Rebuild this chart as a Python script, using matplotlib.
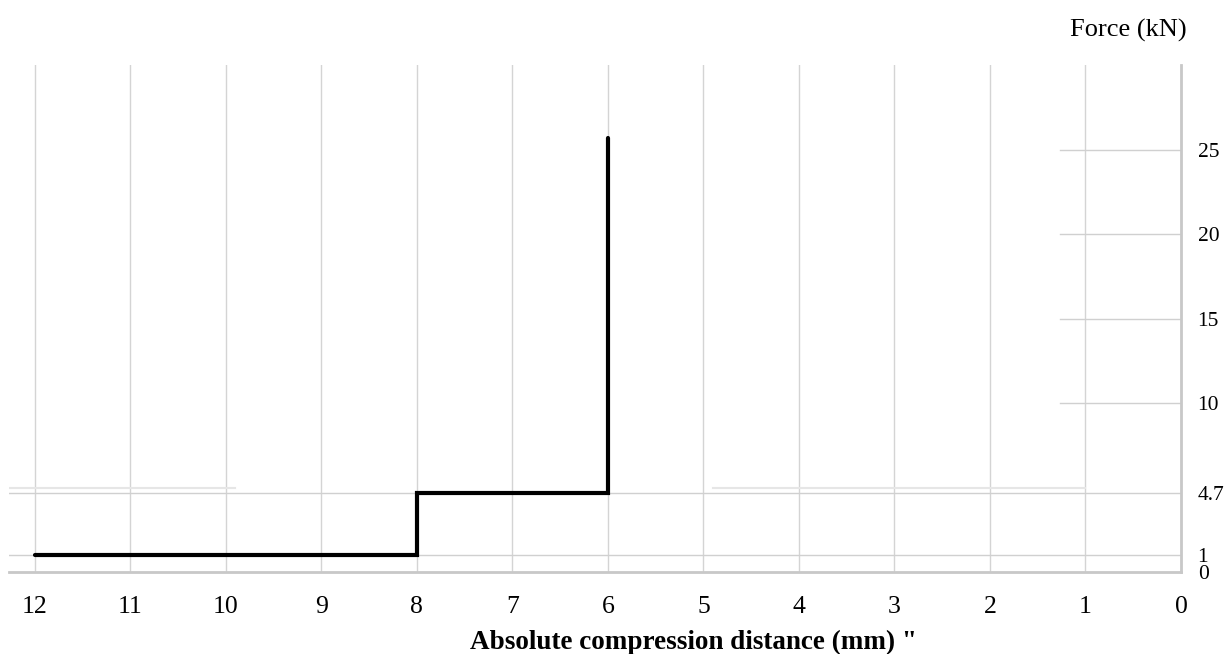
import numpy as np
import matplotlib.pyplot as plt

plt.rcParams['font.family'] = ['Liberation Serif', 'DejaVu Serif']

# step profile: force vs absolute compression distance
distance = [12.0, 8.0, 8.0, 6.0, 6.0]
force = [1.0, 1.0, 4.7, 4.7, 25.7]

xticks = [12, 11, 10, 9, 8, 7, 6, 5, 4, 3, 2, 1, 0]
yticks = [0, 1, 4.7, 10, 15, 20, 25]
ytick_labels = ['0', '1', '4.7', '10', '15', '20', '25']
short_levels = [10, 15, 20, 25]   # short reference marks near the axis
full_levels = [1, 4.7]            # reference lines across the plot

fig = plt.figure(figsize=(12.27, 6.54), dpi=100)
ax = fig.add_axes([0.0073, 0.125, 0.9552, 0.7756])

ax.set_xlim(12.27, 0)
ax.set_ylim(0, 30)

# vertical grid
for x in xticks[:-1]:
    ax.axvline(x, color='#d4d4d4', lw=1, zorder=1)

for y in full_levels:
    ax.axhline(y, color='#d0d0d0', lw=1, zorder=1)
# faint extra line just above 4.7
ax.plot([12.27, 9.9], [5.0, 5.0], color='#e6e6e6', lw=1.5, zorder=1)
ax.plot([4.9, 1.0], [5.0, 5.0], color='#e6e6e6', lw=1.5, zorder=1)

for y in short_levels:
    ax.plot([1.27, 0], [y, y], color='#d0d0d0', lw=1, zorder=1)

ax.plot(distance, force, color='black', lw=3, solid_capstyle='round',
        solid_joinstyle='miter', zorder=3)

ax.yaxis.tick_right()
ax.set_yticks(yticks)
ax.set_yticklabels(ytick_labels)
ax.set_xticks(xticks)
ax.tick_params(axis='both', length=0)
ax.tick_params(axis='x', labelsize=18.5, pad=17)
ax.tick_params(axis='y', labelsize=15.5, pad=12)

for side in ['top', 'left']:
    ax.spines[side].set_visible(False)
for side in ['bottom', 'right']:
    ax.spines[side].set_color('#c8c8c8')
    ax.spines[side].set_linewidth(2)

fig.text(0.565, 0.008, 'Absolute compression distance (mm) "', fontsize=19.5,
         fontweight='bold', ha='center', va='baseline')
fig.text(0.967, 0.953, 'Force (kN)', fontsize=19, ha='right', va='center')

fig.savefig('out.png', dpi=100)
